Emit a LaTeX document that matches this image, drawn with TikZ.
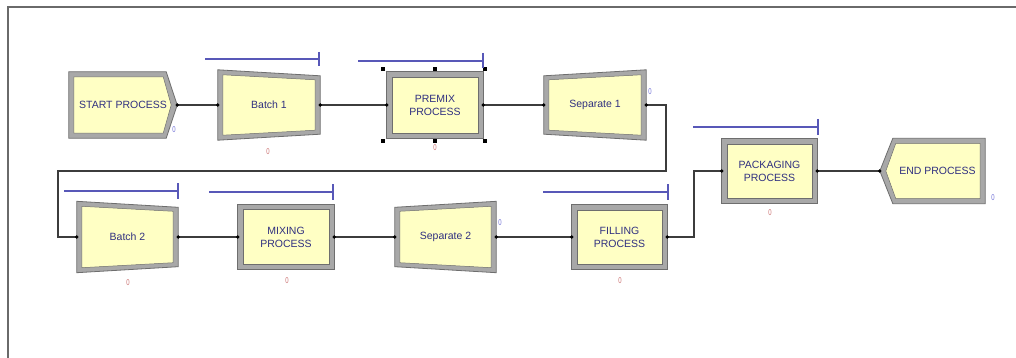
\documentclass[tikz,border=0pt]{standalone}
\usepackage{fontspec}
\setmainfont{Liberation Sans}
\usetikzlibrary{calc,backgrounds}
\definecolor{yel}{HTML}{FFFFC4}
\definecolor{frgray}{HTML}{A8A8A8}
\definecolor{frdark}{HTML}{6E6E6E}
\definecolor{txtc}{HTML}{303080}
\definecolor{linec}{HTML}{3C3C3C}
\definecolor{queblue}{HTML}{5858B8}
\definecolor{cntblue}{HTML}{7474D8}
\definecolor{cntred}{HTML}{CC7474}
\definecolor{bordc}{HTML}{6A6A6A}
\tikzset{
  blk/.style={rectangle, inner sep=0pt, align=center, font=\fontsize{10.5}{13}\selectfont, text=txtc},
  conn/.style={draw=linec, line width=1.1pt},
  que/.style={draw=queblue, line width=1.3pt},
  cntb/.style={font=\fontsize{8.5}{9}\selectfont, text=cntblue, inner sep=0pt, xscale=0.7},
  cntr/.style={font=\fontsize{8.5}{9}\selectfont, text=cntred, inner sep=0pt, xscale=0.7},
  handle/.style={rectangle, fill=black, minimum size=4pt, inner sep=0pt},
  pdot/.style={fill=black},
  outerf/.style={fill=frgray, draw=frdark, line width=0.8pt},
  innerf/.style={fill=yel, draw=frdark, line width=0.5pt}
}
\newcommand\rframe[1]{%
  \path[outerf] (#1.north west) rectangle (#1.south east);
  \path[innerf] ($(#1.north west)+(5,5)$) rectangle ($(#1.south east)+(-5,-5)$);}
\newcommand\bframe[1]{%
  \path[outerf] (#1.north west) -- ($(#1.north east)+(0,6)$) -- ($(#1.south east)+(0,-6)$) -- (#1.south west) -- cycle;
  \path[innerf] ($(#1.north west)+(5,5)$) -- ($(#1.north east)+(-5,10)$) -- ($(#1.south east)+(-5,-10)$) -- ($(#1.south west)+(5,-5)$) -- cycle;}
\newcommand\sframe[1]{%
  \path[outerf] ($(#1.north west)+(0,6)$) -- (#1.north east) -- (#1.south east) -- ($(#1.south west)+(0,-6)$) -- cycle;
  \path[innerf] ($(#1.north west)+(5,10)$) -- ($(#1.north east)+(-5,5)$) -- ($(#1.south east)+(-5,-5)$) -- ($(#1.south west)+(5,-10)$) -- cycle;}
\newcommand\cframe[1]{%
  \path[outerf] (#1.north west) -- ($(#1.north east)+(-11,0)$) -- (#1.east) -- ($(#1.south east)+(-11,0)$) -- (#1.south west) -- cycle;
  \path[innerf] ($(#1.north west)+(5,5)$) -- ($(#1.north east)+(-14,5)$) -- ($(#1.east)+(-6,0)$) -- ($(#1.south east)+(-14,-5)$) -- ($(#1.south west)+(5,-5)$) -- cycle;}
\newcommand\dframe[1]{%
  \path[outerf] ($(#1.north west)+(13,0)$) -- (#1.north east) -- (#1.south east) -- ($(#1.south west)+(13,0)$) -- (#1.west) -- cycle;
  \path[innerf] ($(#1.north west)+(16,5)$) -- ($(#1.north east)+(-5,5)$) -- ($(#1.south east)+(-5,-5)$) -- ($(#1.south west)+(16,-5)$) -- ($(#1.west)+(6,0)$) -- cycle;}
\begin{document}
\begin{tikzpicture}[x=1pt,y=-1pt]
\useasboundingbox (0,0) rectangle (1016,358);

% modules
\node[blk, minimum width=108pt, minimum height=66pt] (start) at (123,105) {START PROCESS};
\node[blk, minimum width=102pt, minimum height=70pt] (batch1) at (269,105) {Batch 1};
\node[blk, minimum width=96pt, minimum height=66pt] (premix) at (435,105) {PREMIX\\PROCESS};
\node[blk, minimum width=102pt, minimum height=70pt] (sep1) at (595,105) {Separate 1};
\node[blk, minimum width=95pt, minimum height=64pt] (pack) at (769.5,171) {PACKAGING\\PROCESS};
\node[blk, minimum width=105pt, minimum height=65pt] (endp) at (932.5,171) {\hspace*{10pt}END PROCESS};
\node[blk, minimum width=101pt, minimum height=71pt] (batch2) at (127.5,237) {Batch 2};
\node[blk, minimum width=96pt, minimum height=65pt] (mixing) at (286,237) {MIXING\\PROCESS};
\node[blk, minimum width=101pt, minimum height=71pt] (sep2) at (445.5,237) {Separate 2};
\node[blk, minimum width=95pt, minimum height=64pt] (filling) at (619.5,237) {FILLING\\PROCESS};

\begin{scope}[on background layer]
  \fill[white] (0,0) rectangle (1016,358);
  \cframe{start}
  \bframe{batch1}
  \rframe{premix}
  \sframe{sep1}
  \rframe{pack}
  \dframe{endp}
  \bframe{batch2}
  \rframe{mixing}
  \sframe{sep2}
  \rframe{filling}
\end{scope}

\draw[draw=bordc, line width=1.6pt] (1016,7) -- (8,7) -- (8,358);

% connectors
\coordinate (r1) at (666,171);
\coordinate (l1) at (58,171);
\coordinate (j2) at (694,171);
\draw[conn] (start.east) -- (batch1.west);
\draw[conn] (batch1.east) -- (premix.west);
\draw[conn] (premix.east) -- (sep1.west);
\draw[conn] (sep1.east) -| (r1) -- (l1) |- (batch2.west);
\draw[conn] (batch2.east) -- (mixing.west);
\draw[conn] (mixing.east) -- (sep2.west);
\draw[conn] (sep2.east) -- (filling.west);
\draw[conn] (filling.east) -| (j2) -- (pack.west);
\draw[conn] (pack.east) -- (endp.west);

% ports
\foreach \p in {start.east, batch1.west, batch1.east, premix.west, premix.east, sep1.west, sep1.east,
  batch2.west, batch2.east, mixing.west, mixing.east, sep2.west, sep2.east, filling.west, filling.east,
  pack.west, pack.east, endp.west}
  \fill[pdot] (\p) circle (1.9pt);

% selection handles on PREMIX
\node[handle] (h1) at (383,69) {};
\node[handle] (h2) at (435,69) {};
\node[handle] (h3) at (485,69) {};
\node[handle] (h4) at (383,141) {};
\node[handle] (h5) at (435,141) {};
\node[handle] (h6) at (485,141) {};

% queues
\draw[que] (205,59) -- (319,59); \draw[que] (319,52) -- (319,66);
\draw[que] (358,61) -- (483,61); \draw[que] (483,53) -- (483,68);
\draw[que] (693,127) -- (818,127); \draw[que] (818,119) -- (818,135);
\draw[que] (64,191) -- (178,191); \draw[que] (178,183) -- (178,199);
\draw[que] (209,192) -- (333,192); \draw[que] (333,184) -- (333,200);
\draw[que] (543,192) -- (668,192); \draw[que] (668,184) -- (668,200);

% counters
\node[cntb] (k1) at (174,130) {0};
\node[cntr] (k2) at (268,152) {0};
\node[cntr] (k3) at (435,148) {0};
\node[cntb] (k4) at (650,92) {0};
\node[cntr] (k5) at (770,213) {0};
\node[cntb] (k6) at (993,198) {0};
\node[cntr] (k7) at (128,283) {0};
\node[cntr] (k8) at (287,281) {0};
\node[cntb] (k9) at (500,223) {0};
\node[cntr] (k10) at (620,281) {0};
\end{tikzpicture}
\end{document}
